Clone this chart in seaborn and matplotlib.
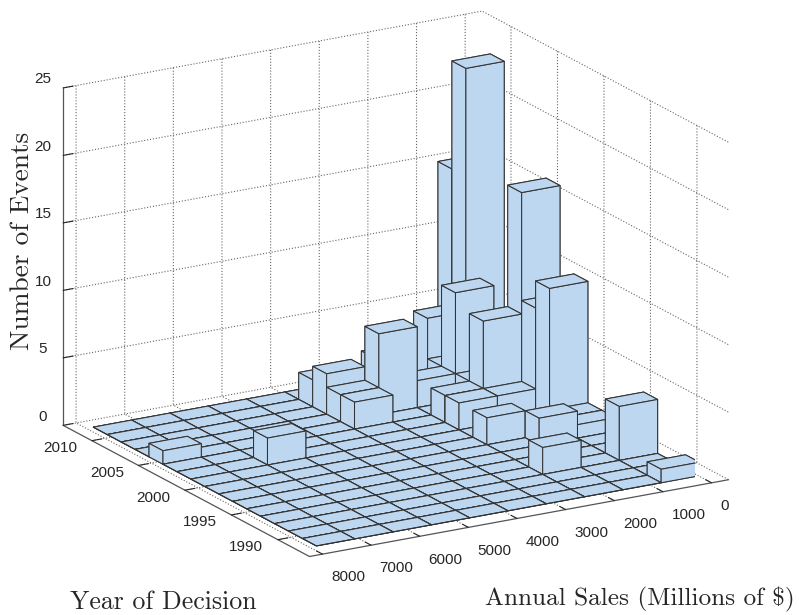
import numpy as np
import matplotlib
matplotlib.use('Agg')
import matplotlib.pyplot as plt
import seaborn as sns

# bins, front to back (years) and high to low (sales)
sales_edges = np.linspace(7857, -19, 11)
year_edges = np.linspace(1988.0, 2012.0, 17)
sales_ticks = [0, 1000, 2000, 3000, 4000, 5000, 6000, 7000, 8000]
year_ticks = [1990, 1995, 2000, 2005, 2010]
count_ticks = [0, 5, 10, 15, 20, 25]

# one row per year bin, one column per sales bin
counts = [
    [0, 0, 0, 0, 0, 0, 0, 0, 0, 1],
    [0, 0, 0, 0, 0, 0, 0, 0, 0, 0],
    [0, 0, 0, 0, 0, 0, 0, 0, 0, 0],
    [0, 0, 0, 0, 0, 0, 0, 2, 0, 4],
    [0, 0, 0, 0, 0, 0, 0, 0, 0, 0],
    [0, 0, 0, 0, 0, 0, 0, 0, 0, 0],
    [0, 0, 0, 0, 0, 0, 0, 0, 2, 1],
    [0, 0, 0, 0, 0, 0, 0, 2, 0, 1],
    [0, 0, 0, 0, 0, 0, 0, 0, 0, 10],
    [0, 0, 2, 0, 0, 0, 0, 2, 2, 8],
    [0, 0, 0, 0, 0, 0, 0, 2, 7, 16],
    [1, 0, 0, 0, 0, 2, 0, 0, 2, 0],
    [0, 0, 0, 0, 0, 2, 6, 2, 8, 0],
    [0, 0, 0, 0, 0, 3, 0, 0, 2, 0],
    [0, 0, 0, 0, 0, 2, 0, 0, 5, 23],
    [0, 0, 0, 0, 0, 0, 0, 2, 0, 15],
]

sns.set_style('white')
plt.rcParams['font.family'] = ['Liberation Sans', 'DejaVu Sans']
plt.rcParams['grid.linestyle'] = ':'
plt.rcParams['grid.linewidth'] = 0.8
plt.rcParams['grid.color'] = '#666666'

fig = plt.figure(figsize=(7.99, 6.15), dpi=100)
ax = fig.add_axes([-0.015, 0.025, 1, 1], projection='3d')
ax.set_proj_type('ortho')
ax.view_init(elev=18.2, azim=-120.4)
ax.set_box_aspect((487, 488, 356), zoom=1.222)
ax.computed_zorder = False

ax.set_xlim(8267, -350, view_margin=0)
ax.set_ylim(1986.6, 2013.1, view_margin=0)
ax.set_zlim(0, 25, view_margin=0)

z = 10
for r in range(15, -1, -1):
    for c in range(9, -1, -1):
        x0 = sales_edges[c + 1]
        dx = sales_edges[c] - sales_edges[c + 1]
        y0 = year_edges[r]
        dy = year_edges[r + 1] - year_edges[r]
        ax.bar3d(x0, y0, 0, dx, dy, counts[r][c], color='#BDD7F0',
                 edgecolor='#333333', linewidth=0.75, shade=False, zorder=z)
        z += 1

ax.set_xticks(sales_ticks)
ax.set_yticks(year_ticks)
ax.set_zticks(count_ticks)
ax.tick_params(labelsize=11)
ax.tick_params(axis='x', pad=0)
ax.tick_params(axis='y', pad=0)
ax.tick_params(axis='z', pad=-1)
for lab in ax.get_xticklabels():
    lab.set_ha('left')
for lab in ax.get_yticklabels():
    lab.set_ha('right')
    lab.set_va('bottom')
for lab in ax.get_zticklabels():
    lab.set_va('bottom')

for axis in [ax.xaxis, ax.yaxis, ax.zaxis]:
    axis.set_pane_color((1, 1, 1, 0))
    axis.pane.set_edgecolor((1, 1, 1, 0))
    axis.line.set_color('#555555')
    axis.line.set_linewidth(0.9)
    axis._axinfo['tick']['inward_factor'] = 0
    axis._axinfo['tick']['outward_factor'] = 0.3

fig.text(0.028, 0.608, 'Number of Events', family='cmr10', fontsize=19.7,
         rotation=90, ha='center', va='center')
fig.text(0.088, 6 / 615, 'Year of Decision', family='cmr10', fontsize=18.6,
         ha='left', va='baseline')
fig.text(0.995, 0.016, r'Annual Sales (Millions of \$)', family='cmr10',
         fontsize=18.2, ha='right', va='baseline')

fig.savefig('out.png', dpi=100)
